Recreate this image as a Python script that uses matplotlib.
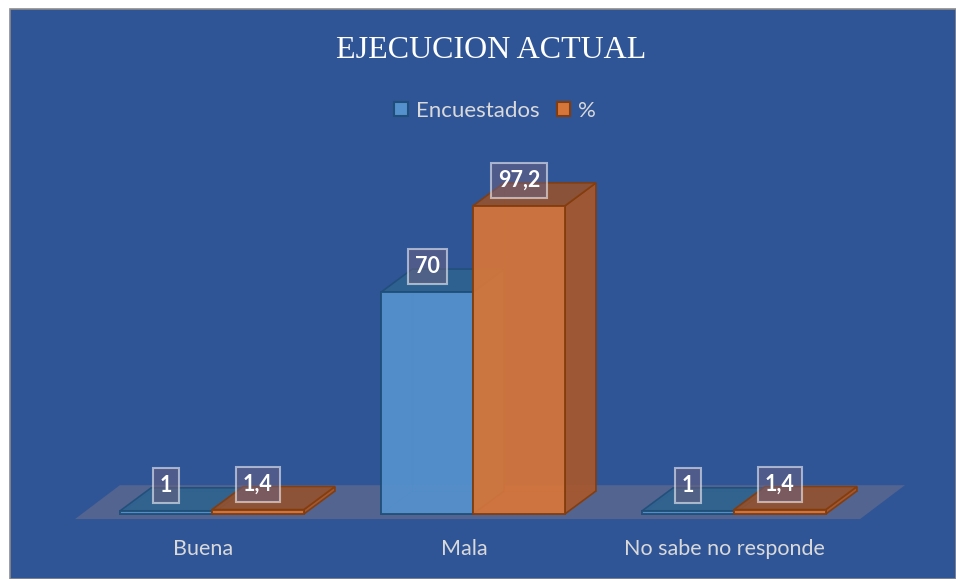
"""EJECUCION ACTUAL: pseudo-3D clustered bars on a blue panel."""

import matplotlib
matplotlib.use("Agg")
import matplotlib.pyplot as plt
import matplotlib.patches as mpatches
from matplotlib.patches import Polygon, Rectangle

# Data
categories = ["Buena", "Mala", "No sabe no responde"]
encuestados = [1, 70, 1]
porcentaje = [1.4, 97.2, 1.4]
series_names = ["Encuestados", "%"]

# Style
BG = "#2F5597"
TEXT = "#D9D9D9"
BLUE = {"front": "#5591CD", "top": "#2F6390", "side": "#3A6EA5", "edge": "#1F4E79"}
ORANGE = {"front": "#D7763A", "top": "#94522F", "side": "#A55830", "edge": "#843C0C"}
FLOOR = "#52648F"

BAR_W = 0.352      # category units
DX, DY = 0.119, 7.26  # oblique depth offset (category units, value units)

plt.rcParams["font.family"] = ["Lato", "DejaVu Sans"]

fig = plt.figure(figsize=(9.56, 5.79), dpi=100, facecolor="white")
fig.patches.append(Rectangle((10 / 956, 0), 1 - 10 / 956, 1 - 9 / 579,
                             transform=fig.transFigure, facecolor=BG,
                             edgecolor="#8C8C8C", linewidth=1.2, zorder=-10))

ax = fig.add_axes([0, 0, 1, 1])
ax.set_facecolor("none")
ax.set_xlim(-212 / 261, (956 - 212) / 261)
ax.set_ylim(-(579 - 514) / 3.17, 514 / 3.17)
ax.axis("off")

# floor slab
fl_y0, fl_y1 = -1.6, 9.1
fl_x0, fl_x1, fl_dx = -0.525, 2.483, 0.172
ax.add_patch(Polygon([(fl_x0, fl_y0), (fl_x1, fl_y0), (fl_x1 + fl_dx, fl_y1),
                      (fl_x0 + fl_dx, fl_y1)], closed=True,
                     facecolor=FLOOR, edgecolor="none", zorder=1))


def bar3d(x0, h, c, z):
    ec = c["edge"]
    # faint hidden edges seen through the translucent faces
    for xs, ys in [((x0 + DX, x0 + DX), (DY, h + DY)),
                   ((x0 + DX, x0 + BAR_W + DX), (DY, DY)),
                   ((x0, x0 + DX), (0, DY))]:
        ax.plot(xs, ys, color=ec, lw=0.8, alpha=0.35, zorder=z)
    side = [(x0 + BAR_W, 0), (x0 + BAR_W + DX, DY), (x0 + BAR_W + DX, h + DY), (x0 + BAR_W, h)]
    top = [(x0, h), (x0 + BAR_W, h), (x0 + BAR_W + DX, h + DY), (x0 + DX, h + DY)]
    ax.add_patch(Polygon(side, closed=True, facecolor=c["side"], edgecolor=ec,
                         lw=1.2, alpha=0.95, zorder=z + 0.1))
    ax.add_patch(Polygon(top, closed=True, facecolor=c["top"], edgecolor=ec,
                         lw=1.2, alpha=0.9, zorder=z + 0.1))
    ax.add_patch(Rectangle((x0, 0), BAR_W, h, facecolor=c["front"], edgecolor=ec,
                           lw=1.4, alpha=0.93, zorder=z + 0.2))


def fmt(v):
    return f"{v:g}".replace(".", ",")


for i, (a, b) in enumerate(zip(encuestados, porcentaje)):
    bar3d(i - BAR_W, a, BLUE, 2 + i)
    bar3d(i, b, ORANGE, 2.5 + i)
    for x0, v in [(i - BAR_W, a), (i, b)]:
        ax.text(x0 + BAR_W / 2, v + 8, fmt(v), ha="center", va="center",
                fontsize=15.5, fontweight="bold", color="white", zorder=10,
                bbox=dict(boxstyle="square,pad=0.33",
                          facecolor=(0.42, 0.38, 0.5, 0.55),
                          edgecolor=(1, 1, 1, 0.55), linewidth=1.5))
    ax.text(i - 0.035, -11, categories[i], ha="center", va="center",
            fontsize=15.5, color=TEXT, zorder=10)

fig.text(0.514, 1 - 50 / 579, "EJECUCION ACTUAL", ha="center", va="center",
         fontsize=23, color="white", family="Liberation Serif")

handles = [mpatches.Patch(facecolor=BLUE["front"], edgecolor=BLUE["edge"], lw=1.5),
           mpatches.Patch(facecolor=ORANGE["front"], edgecolor=ORANGE["edge"], lw=1.5)]
leg = fig.legend(handles, series_names, loc="center", ncol=2,
                 bbox_to_anchor=(0.518, 1 - 111 / 579), frameon=False,
                 fontsize=16, handlelength=0.6, handleheight=0.6,
                 handletextpad=0.35, columnspacing=0.8)
for t in leg.get_texts():
    t.set_color(TEXT)

fig.savefig("out.png", dpi=100, facecolor=fig.get_facecolor())
